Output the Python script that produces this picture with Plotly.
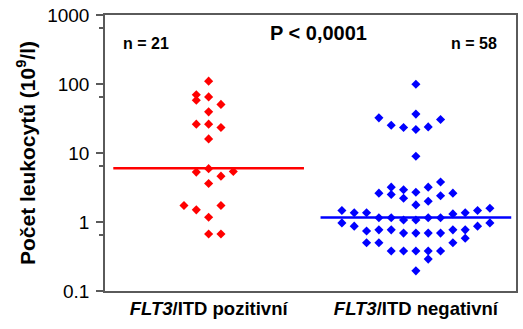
import plotly.graph_objects as go

# ---- data ----
groups = ["FLT3/ITD pozitivní", "FLT3/ITD negativní"]
tick_text = ["<b><i>FLT3</i>/ITD pozitivní</b>", "<b><i>FLT3</i>/ITD negativní</b>"]

pos_values = [110, 70, 58, 65, 50.6, 39.5, 26.2, 26.2, 23.4, 16,
              5.93, 5.29, 5.4, 4.62, 3.62, 1.73, 1.5, 1.73, 1.17, 0.67, 0.67]
pos_cols = [0, -1, -1, 0, 1, 0, -1, 0, 1, 0,
            0, -1, 2, 1, 0, -2, -1, 1, 0, 0, 1]

neg_values = [99, 32.3, 36.6, 30.6, 25.3, 23.4, 21.9, 23.9, 8.95,
              3.8, 3.2, 3.2, 2.93, 2.7, 2.62, 2.62, 2.5, 2.4, 2.21, 2.0, 1.77,
              1.47, 1.36, 1.36, 1.31, 1.36, 1.47, 1.58,
              1.15, 1.15, 1.07, 1.07, 1.15, 1.15,
              0.97, 0.87, 0.74, 0.77, 0.77, 0.69, 0.69, 0.69, 0.69, 0.77, 0.77, 0.87, 0.97,
              0.58, 0.50, 0.50, 0.50,
              0.38, 0.38, 0.38, 0.38, 0.38,
              0.29, 0.196]
neg_cols = [0, -3, 0, 2, -2, -1, 0, 1, 0,
            2, -2, 1, -1, 0, -3, 3, -2, 2, -1, 1, 0,
            -6, -5, -4, 3, 4, 5, 6,
            -3, -2, -1, 0, 1, 2,
            -6, -5, -4, -3, -2, -1, 0, 1, 2, 3, 4, 5, 6,
            4, -4, -3, 3,
            -2, -1, 0, 1, 2,
            1, 0]

medians = [6.0, 1.16]
n_labels = ["n = 21", "n = 58"]
p_label = "P < 0,0001"

y_tickvals = [0.1, 1, 10, 100, 1000]
y_ticktext = ["0.1", "1", "10", "100", "1000"]
y_minor_vals = [0.653, 6.53, 65.3, 653]

# ---- figure ----
FONT = "Liberation Sans, Arial, sans-serif"
step = 0.0595
half = 0.46
colors = ["#ff0000", "#0000ff"]
W, H = 523, 329
M = dict(l=105, r=5, t=15, b=38)
plot_h = H - M["t"] - M["b"]


def py(px):
    """pixel row -> paper y"""
    return 1 - (px - M["t"]) / plot_h


fig = go.Figure()
for gi, (vals, cols) in enumerate([(pos_values, pos_cols), (neg_values, neg_cols)]):
    xc = gi + 1
    fig.add_trace(go.Scatter(
        x=[xc + c * step for c in cols], y=vals, mode="markers",
        marker=dict(symbol="diamond", size=7, color=colors[gi], line=dict(width=0)),
        showlegend=False, hoverinfo="y"))
    fig.add_trace(go.Scatter(
        x=[xc - half, xc + half], y=[medians[gi], medians[gi]], mode="lines",
        line=dict(color=colors[gi], width=2.5), showlegend=False, hoverinfo="skip"))

fig.update_layout(
    width=W, height=H,
    margin=M,
    plot_bgcolor="white", paper_bgcolor="white",
    font=dict(family=FONT, color="black"),
    xaxis=dict(range=[0.5, 2.483], tickvals=[1, 2], ticktext=tick_text,
               showline=True, mirror=True, linecolor="#5a5a5a", linewidth=1.5,
               ticks="", showgrid=False, zeroline=False,
               tickfont=dict(size=18.5, family=FONT)),
    yaxis=dict(type="log", range=[-1, 3], tickvals=y_tickvals, ticktext=y_ticktext,
               showline=True, mirror=True, linecolor="#5a5a5a", linewidth=1.5,
               ticks="outside", ticklen=7, tickwidth=1.5, tickcolor="#5a5a5a",
               ticklabelstandoff=3,
               minor=dict(tickvals=y_minor_vals, ticks="outside", ticklen=4,
                          tickwidth=1.5, tickcolor="#5a5a5a", showgrid=False),
               showgrid=False, zeroline=False,
               tickfont=dict(size=19, family=FONT),
               tickprefix="<b>", ticksuffix="</b>",
               title=dict(text="<b>Počet leukocytů (10<sup>9</sup>/l)</b>",
                          font=dict(size=21, family=FONT), standoff=6)),
)

fig.add_annotation(x=0.70, y=py(43), xref="x", yref="paper", showarrow=False,
                   yanchor="middle", xanchor="center",
                   text="<b>" + n_labels[0] + "</b>", font=dict(size=16, family=FONT))
fig.add_annotation(x=2.28, y=py(43), xref="x", yref="paper", showarrow=False,
                   yanchor="middle", xanchor="center",
                   text="<b>" + n_labels[1] + "</b>", font=dict(size=16, family=FONT))
fig.add_annotation(x=1.53, y=py(33), xref="x", yref="paper", showarrow=False,
                   yanchor="middle", xanchor="center",
                   text="<b>" + p_label + "</b>", font=dict(size=20, family=FONT))

fig.write_html("out.html")
